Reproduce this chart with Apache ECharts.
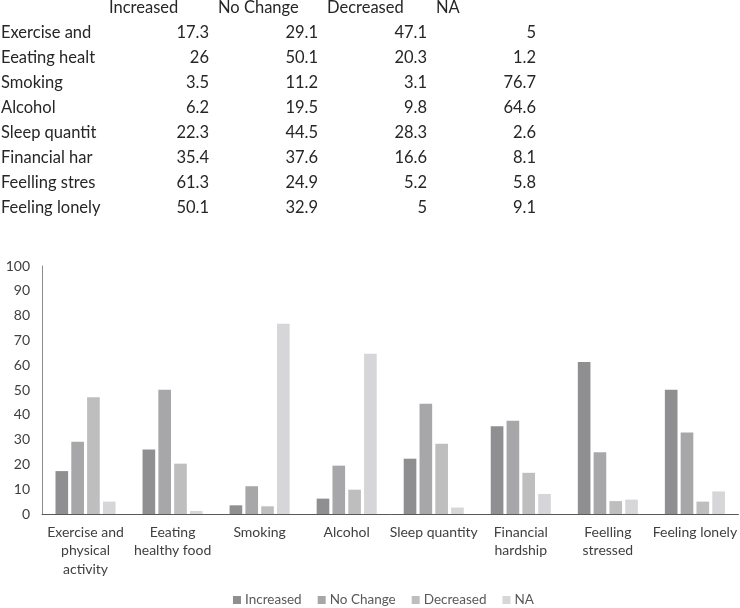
<!DOCTYPE html>
<html>
<head>
<meta charset="utf-8">
<script src="https://cdn.jsdelivr.net/npm/echarts@6/dist/echarts.min.js"></script>
<style>
html,body{margin:0;padding:0;background:#fff;}
#chart{width:740px;height:608px;}
</style>
</head>
<body>
<div id="chart"></div>
<script>
var categories = ["Exercise and\nphysical\nactivity", "Eeating\nhealthy food", "Smoking", "Alcohol", "Sleep quantity", "Financial\nhardship", "Feelling\nstressed", "Feeling lonely"];
var seriesNames = ["Increased", "No Change", "Decreased", "NA"];
var increased = [17.3, 26, 3.5, 6.2, 22.3, 35.4, 61.3, 50.1];
var noChange = [29.1, 50.1, 11.2, 19.5, 44.5, 37.6, 24.9, 32.9];
var decreased = [47.1, 20.3, 3.1, 9.8, 28.3, 16.6, 5.2, 5];
var na = [5, 1.2, 76.7, 64.6, 2.6, 8.1, 5.8, 9.1];
var yTicks = [0, 10, 20, 30, 40, 50, 60, 70, 80, 90, 100];

var seriesValues = [increased, noChange, decreased, na];
var colors = ["#8f8f91", "#a7a7a9", "#bebebf", "#d6d6d8"];
var fontFam = "Lato, 'Open Sans', sans-serif";

// table drawn as text elements
var graphics = [];
var tableFont = "16.5px " + fontFam;
var rowH = 25, headY = 8, firstRowY = 33;
var colW = 109, firstRight = 209, headLeft = 109;
seriesNames.forEach(function (n, j) {
  graphics.push({type: 'text', x: headLeft + colW * j, y: headY,
    style: {text: n, font: tableFont, fill: '#262626', verticalAlign: 'middle', textVerticalAlign: 'middle'}});
});
categories.forEach(function (c, i) {
  var y = firstRowY + rowH * i;
  graphics.push({type: 'text', x: 1, y: y,
    style: {text: c.replace(/\n/g, ' '), font: tableFont, fill: '#262626', width: 101, overflow: 'truncate', ellipsis: '', textVerticalAlign: 'middle', verticalAlign: 'middle'}});
  seriesValues.forEach(function (arr, j) {
    graphics.push({type: 'text', x: firstRight + colW * j, y: y,
      style: {text: String(arr[i]), font: tableFont, fill: '#262626', align: 'right', textAlign: 'right', verticalAlign: 'middle', textVerticalAlign: 'middle'}});
  });
});

var chart = echarts.init(document.getElementById('chart'), null, {renderer: 'canvas'});
chart.setOption({
  animation: false,
  color: colors,
  textStyle: {fontFamily: fontFam},
  graphic: graphics,
  grid: {left: 42, right: 0, top: 266, bottom: 94, containLabel: false},
  legend: {
    data: seriesNames, bottom: -4, left: 228, icon: 'rect', itemWidth: 8, itemHeight: 8, itemGap: 16,
    textStyle: {color: '#595959', fontSize: 13.5, fontFamily: fontFam, padding: [0, 0, 0, -1]}
  },
  xAxis: {
    type: 'category', data: categories,
    axisLine: {lineStyle: {color: '#595959', width: 1}},
    axisTick: {show: false},
    axisLabel: {color: '#404040', fontSize: 14, fontFamily: fontFam, interval: 0, lineHeight: 18.5, margin: 9}
  },
  yAxis: {
    type: 'value', min: 0, max: 100, interval: 10,
    axisLine: {show: true, lineStyle: {color: '#8c8c8c'}},
    axisTick: {show: false},
    splitLine: {show: false},
    axisLabel: {color: '#404040', fontSize: 14, fontFamily: fontFam, margin: 12}
  },
  series: seriesValues.map(function (arr, j) {
    return {name: seriesNames[j], type: 'bar', data: arr, barGap: '25%', barCategoryGap: '31%'};
  })
});
</script>
</body>
</html>
